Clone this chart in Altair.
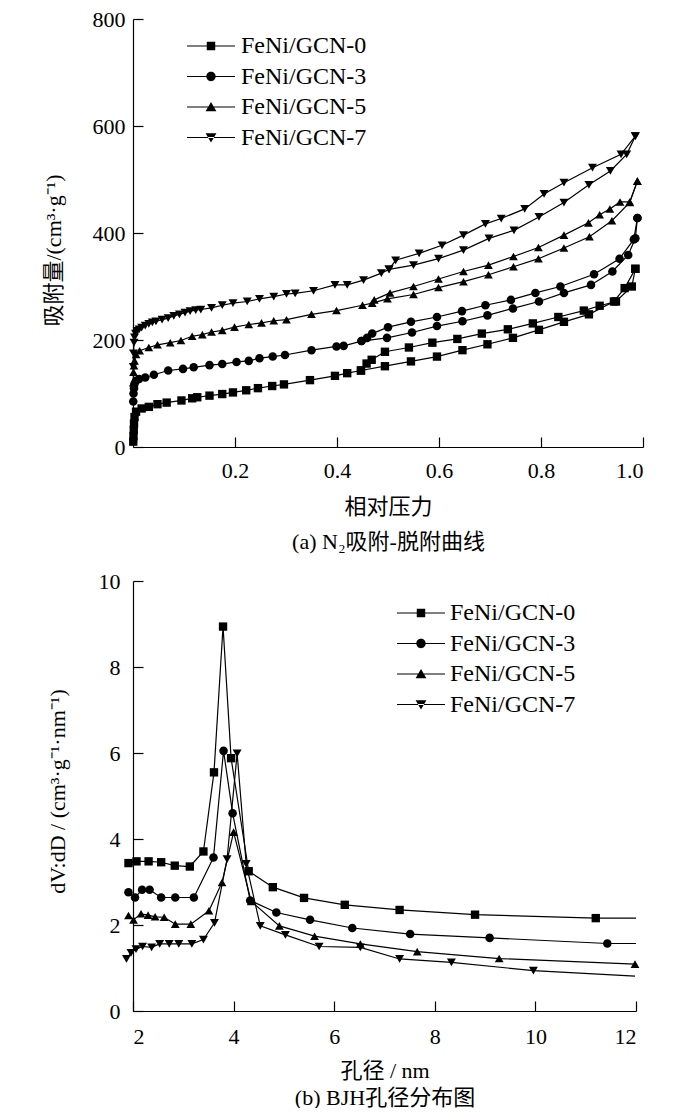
import altair as alt
import pandas as pd

FONT = "Liberation Serif, Noto Sans CJK SC"

series = ["FeNi/GCN-0", "FeNi/GCN-3", "FeNi/GCN-5", "FeNi/GCN-7"]
shapes = ["square", "circle", "triangle-up", "triangle-down"]

# ---------------- (a) N2 isotherms ----------------
ads_p0 = [0.0005, 0.001, 0.0015, 0.002, 0.003, 0.006, 0.017, 0.031, 0.048, 0.066, 0.095, 0.116, 0.126, 0.150, 0.175, 0.196, 0.222, 0.245, 0.273, 0.296, 0.347, 0.396, 0.420, 0.447, 0.494, 0.545, 0.596, 0.646, 0.695, 0.745, 0.796, 0.845, 0.894, 0.943, 0.964, 0.985]
ads_v0 = [10, 20, 32, 44, 56, 66, 72, 75, 80, 83, 87, 91, 93, 96, 99, 102, 106, 110, 114, 117, 125, 133, 138, 143, 151, 160, 169, 181, 192, 204, 219, 234, 248, 272, 297, 333]
des_p0 = [0.985, 0.978, 0.947, 0.915, 0.884, 0.834, 0.784, 0.735, 0.684, 0.636, 0.587, 0.541, 0.494, 0.468, 0.458, 0.447]
des_v0 = [333, 300, 272, 264, 255, 243, 231, 220, 212, 202, 195, 186, 178, 163, 156, 143]

ads_p3 = [0.0005, 0.001, 0.002, 0.003, 0.006, 0.012, 0.024, 0.041, 0.069, 0.098, 0.119, 0.150, 0.175, 0.203, 0.227, 0.248, 0.274, 0.298, 0.350, 0.399, 0.413, 0.448, 0.498, 0.547, 0.596, 0.646, 0.695, 0.745, 0.796, 0.845, 0.898, 0.940, 0.971, 0.985, 0.989]
ads_v3 = [85, 100, 110, 118, 124, 127, 130, 135, 143, 146, 149, 153, 155, 159, 161, 166, 169, 172, 181, 188, 189, 198, 204, 214, 226, 235, 246, 259, 272, 288, 303, 328, 359, 390, 428]
des_p3 = [0.989, 0.982, 0.954, 0.904, 0.838, 0.789, 0.741, 0.691, 0.645, 0.596, 0.545, 0.500, 0.469, 0.459, 0.448]
des_v3 = [428, 388, 352, 323, 300, 288, 275, 265, 254, 243, 234, 224, 212, 204, 198]

ads_p5 = [0.0005, 0.001, 0.002, 0.003, 0.006, 0.013, 0.031, 0.048, 0.073, 0.094, 0.116, 0.136, 0.154, 0.175, 0.199, 0.227, 0.252, 0.276, 0.301, 0.350, 0.399, 0.450, 0.469, 0.499, 0.550, 0.599, 0.648, 0.697, 0.746, 0.795, 0.845, 0.895, 0.939, 0.974, 0.989]
ads_v5 = [120, 140, 152, 161, 173, 180, 186, 191, 195, 199, 207, 210, 215, 218, 224, 229, 232, 236, 238, 248, 255, 265, 269, 277, 285, 298, 309, 322, 337, 352, 372, 393, 423, 457, 497]
des_p5 = [0.989, 0.974, 0.955, 0.935, 0.915, 0.893, 0.845, 0.795, 0.746, 0.697, 0.648, 0.599, 0.550, 0.504, 0.473]
des_v5 = [497, 458, 458, 445, 434, 419, 396, 373, 356, 340, 328, 314, 300, 288, 275]

ads_p7 = [0.0005, 0.001, 0.002, 0.003, 0.005, 0.008, 0.012, 0.017, 0.024, 0.031, 0.038, 0.045, 0.057, 0.069, 0.080, 0.091, 0.102, 0.112, 0.123, 0.133, 0.154, 0.175, 0.196, 0.224, 0.248, 0.276, 0.301, 0.318, 0.354, 0.396, 0.420, 0.452, 0.487, 0.502, 0.550, 0.599, 0.648, 0.698, 0.747, 0.796, 0.845, 0.894, 0.936, 0.968, 0.985]
ads_v7 = [150, 175, 195, 205, 212, 217, 220, 223, 227, 230, 233, 235, 238, 241, 245, 248, 251, 254, 256, 257, 260, 265, 269, 272, 277, 281, 286, 287, 292, 303, 303, 312, 325, 332, 340, 352, 368, 390, 405, 430, 457, 490, 516, 547, 581]
des_p7 = [0.985, 0.957, 0.901, 0.845, 0.806, 0.768, 0.722, 0.691, 0.648, 0.606, 0.561, 0.515, 0.502]
des_v7 = [581, 547, 522, 494, 473, 445, 427, 417, 396, 377, 362, 349, 332]

# ---------------- (b) BJH pore size distribution ----------------
d0 = [1.91, 2.07, 2.31, 2.56, 2.83, 3.13, 3.40, 3.61, 3.79, 3.95, 4.30, 4.78, 5.40, 6.21, 7.30, 8.80, 11.20]
v0 = [3.44, 3.48, 3.48, 3.46, 3.38, 3.36, 3.71, 5.55, 8.94, 5.88, 3.25, 2.88, 2.63, 2.47, 2.35, 2.24, 2.16]
d3 = [1.91, 2.04, 2.18, 2.33, 2.56, 2.84, 3.21, 3.60, 3.80, 3.98, 4.33, 4.85, 5.52, 6.36, 7.51, 9.09, 11.43]
v3 = [2.76, 2.64, 2.82, 2.82, 2.64, 2.64, 2.64, 3.57, 6.05, 4.60, 2.57, 2.29, 2.12, 1.93, 1.79, 1.70, 1.57]
d5 = [1.91, 2.01, 2.16, 2.30, 2.44, 2.62, 2.84, 3.15, 3.51, 3.77, 4.00, 4.35, 4.91, 5.61, 6.52, 7.65, 9.28, 11.98]
v5 = [2.22, 2.12, 2.26, 2.23, 2.19, 2.18, 2.02, 2.02, 2.33, 2.99, 4.16, 2.55, 1.98, 1.74, 1.56, 1.38, 1.22, 1.09]
d7 = [1.87, 1.96, 2.06, 2.19, 2.37, 2.53, 2.72, 2.91, 3.17, 3.40, 3.62, 3.87, 4.07, 4.25, 4.53, 5.03, 5.70, 6.52, 7.30, 8.33, 9.96]
v7 = [1.21, 1.35, 1.44, 1.50, 1.48, 1.56, 1.56, 1.56, 1.56, 1.66, 2.05, 3.53, 5.99, 3.42, 1.98, 1.77, 1.50, 1.48, 1.21, 1.13, 0.94]
# line continues without marker to the axis end
tail_d = [12.0, 12.0, None, 11.98]
tail_v = [2.16, 1.57, None, 0.81]

xa_ticks = [0.2, 0.4, 0.6, 0.8, 1.0]
ya_ticks = [0, 200, 400, 600, 800]
xb_ticks = [2, 4, 6, 8, 10, 12]
yb_ticks = [0, 2, 4, 6, 8, 10]

# ---------------- tables ----------------
iso_rows = []
for name, ap, av, dp, dv in [
    (series[0], ads_p0, ads_v0, des_p0, des_v0),
    (series[1], ads_p3, ads_v3, des_p3, des_v3),
    (series[2], ads_p5, ads_v5, des_p5, des_v5),
    (series[3], ads_p7, ads_v7, des_p7, des_v7),
]:
    for i, (p, v) in enumerate(zip(ap, av)):
        iso_rows.append({"series": name, "grp": name + "-ads", "idx": i, "p": p, "v": v})
    for i, (p, v) in enumerate(zip(dp, dv)):
        iso_rows.append({"series": name, "grp": name + "-des", "idx": i, "p": p, "v": v})
iso = pd.DataFrame(iso_rows)

bjh_pts, bjh_line = [], []
for k, (name, dd, vv) in enumerate(zip(series, [d0, d3, d5, d7], [v0, v3, v5, v7])):
    for i, (d, v) in enumerate(zip(dd, vv)):
        bjh_pts.append({"series": name, "idx": i, "d": d, "v": v})
        bjh_line.append({"series": name, "idx": i, "d": d, "v": v})
    if tail_d[k] is not None:
        bjh_line.append({"series": name, "idx": len(dd), "d": tail_d[k], "v": tail_v[k]})
bjh_p = pd.DataFrame(bjh_pts)
bjh_l = pd.DataFrame(bjh_line)

# legend glyphs: a thin filled bar (the line) with the marker in the middle
L = 2.667
T = 0.065
BAR = f"M-{L},-{T}H{L}V{T}H-{L}Z"
legend_paths = [
    BAR + "M-0.47,-0.47H0.47V0.47H-0.47Z",
    BAR + "M-0.52,0A0.52,0.52,0,1,1,0.52,0A0.52,0.52,0,1,1,-0.52,0Z",
    BAR + "M0,-0.55L0.6,0.47L-0.6,0.47Z",
    BAR + "M0,0.55L0.6,-0.47L-0.6,-0.47Z",
]
size_range = [70, 80, 100, 100]


def panel(line_df, pt_df, xf, yf, W, H, xdom, ydom, xticks, yticks, xfmt,
          xtitle, ytitle, ytx, yty, xlp, ylp, tlh, lx, ly, loff, grp):
    xs = alt.Scale(domain=xdom, nice=False, zero=False)
    ys = alt.Scale(domain=ydom, nice=False, zero=False)
    lines = alt.Chart(line_df).mark_line(color="black", strokeWidth=1.2).encode(
        x=alt.X(f"{xf}:Q", scale=xs, axis=alt.Axis(
            values=xticks, format=xfmt, ticks=False, labelPadding=xlp,
            title=xtitle, titleX=W / 2, titleY=49, titleBaseline="top",
            titleAlign="center", titleLineHeight=tlh)),
        y=alt.Y(f"{yf}:Q", scale=ys, axis=alt.Axis(
            values=yticks, ticks=False, labelPadding=ylp, title=ytitle,
            titleX=ytx, titleY=yty, titleAngle=270, titleBaseline="middle",
            titleAlign="center")),
        detail=f"{grp}:N",
        order="idx:Q",
    )
    pts = alt.Chart(pt_df).mark_point(filled=True, color="black", opacity=1).encode(
        x=alt.X(f"{xf}:Q", scale=xs, axis=alt.Axis(
            orient="top", offset=-H, labels=False, domain=False,
            values=xticks, title=None)),
        y=alt.Y(f"{yf}:Q", scale=ys, axis=alt.Axis(
            orient="right", offset=-W, labels=False, domain=False,
            values=yticks, title=None)),
        shape=alt.Shape("series:N", scale=alt.Scale(domain=series, range=shapes), legend=None),
        size=alt.Size("series:N", scale=alt.Scale(domain=series, range=size_range), legend=None),
    )
    leg = alt.Chart(pt_df).transform_filter("false").mark_point(
        filled=True, color="black", opacity=1, size=324
    ).encode(
        x=alt.X(f"{xf}:Q", scale=xs, axis=None),
        y=alt.Y(f"{yf}:Q", scale=ys, axis=None),
        shape=alt.Shape("series:N", scale=alt.Scale(domain=series, range=legend_paths),
                        legend=alt.Legend(
                            orient="none", legendX=lx, legendY=ly, title=None,
                            labelFont=FONT, labelFontSize=24, labelColor="black",
                            labelOffset=loff, rowPadding=6.5, padding=0,
                            symbolSize=324, symbolFillColor="black",
                            symbolOpacity=1)),
    )
    return alt.layer(lines, pts, leg).resolve_scale(
        shape="independent", size="independent"
    ).resolve_axis(x="independent", y="independent").properties(width=W, height=H)


top = panel(iso, iso, "p", "v", 510, 428, [0, 1], [0, 800], xa_ticks, ya_ticks, ".1f",
            ["相对压力", "(a) N₂吸附-脱附曲线"], "吸附量/(cm³·g⁻¹)", -80, 231, 13, 8, 35,
            66, 15, 18, "grp")
bottom = panel(bjh_l, bjh_p, "d", "v", 503, 430, [2, 12], [0, 10], xb_ticks, yb_ticks, "d",
               ["孔径 / nm", "(b) BJH孔径分布图"], "dV:dD / (cm³·g⁻¹·nm⁻¹)", -76, 210, 15, 13, 27,
               276, 20, 17, "series")

chart = alt.vconcat(top, bottom, spacing=18).properties(
    padding={"left": 34, "top": 0, "right": 5, "bottom": 0}
).configure_view(stroke=None).configure_axis(
    labelFont=FONT, labelFontSize=22, labelColor="black",
    titleFont=FONT, titleFontSize=22, titleFontWeight="normal", titleColor="black",
    domainColor="black", domainWidth=1.2, tickColor="black", tickWidth=1.2,
    tickSize=10, grid=False,
)

chart.save("out.html", embed_options={"renderer": "svg", "actions": False})
